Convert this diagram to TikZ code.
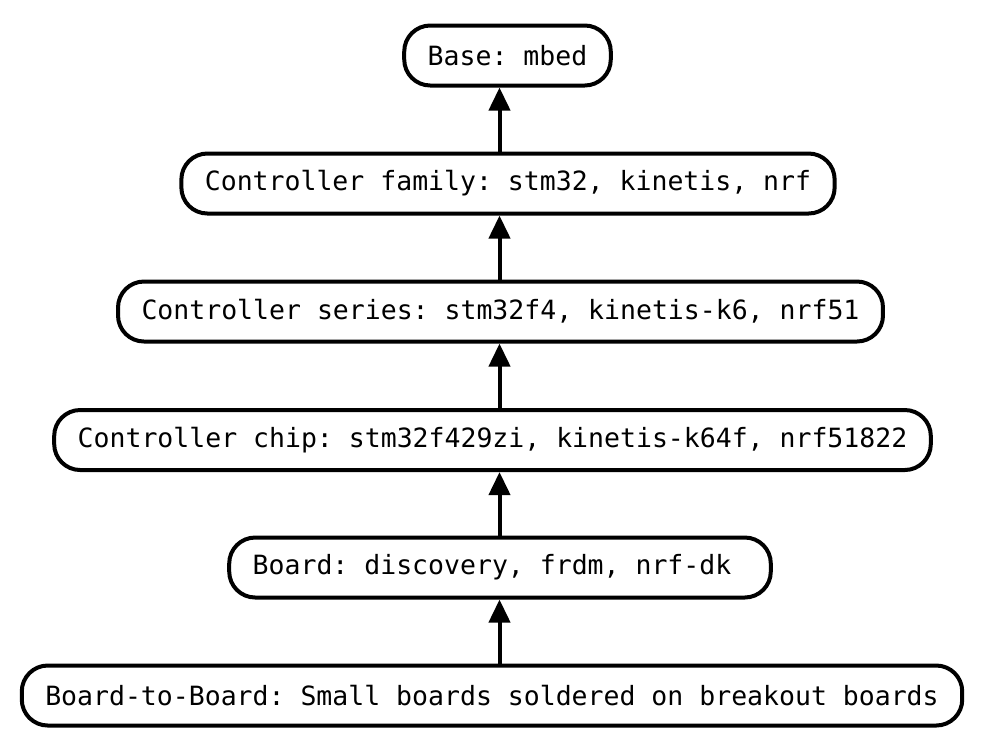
\documentclass[tikz,border=0pt]{standalone}
\usepackage{fontspec}
\setmonofont{DejaVu Sans Mono}
\usetikzlibrary{arrows.meta}

\begin{document}
\begin{tikzpicture}[x=0.5pt,y=-0.5pt,
    level/.style={draw,line width=2pt,rounded corners=13pt,minimum height=30pt,
      inner xsep=11.75pt,inner ysep=0pt,font=\ttfamily\fontsize{13.25pt}{16pt}\selectfont},
    up/.style={-{Triangle[width=10.5pt,length=11.5pt]},line width=2pt}]

  \useasboundingbox (0,0) rectangle (988,746);
  \coordinate (spine) at (499.5,0);

  % Levels, from most generic to most specific
  \node[level] (base)   at (507.5,55.5) {Base: mbed};
  \node[level] (family) at (508,183.5)  {Controller family: stm32, kinetis, nrf};
  \node[level] (series) at (500.5,311.5){Controller series: stm32f4, kinetis-k6, nrf51};
  \node[level] (chip)   at (492.5,440)  {Controller chip: stm32f429zi, kinetis-k64f, nrf51822};
  \node[level] (board)  at (500,567.5)  {Board: discovery, frdm, nrf-dk\phantom{k}};
  \node[level] (b2b)    at (492,695.5)  {Board-to-Board: Small boards soldered on breakout boards};

  % Each level inherits from the one above
  \path (b2b.north -| spine)    edge [up] (board.south -| spine);
  \path (board.north -| spine)  edge [up] (chip.south -| spine);
  \path (chip.north -| spine)   edge [up] (series.south -| spine);
  \path (series.north -| spine) edge [up] (family.south -| spine);
  \path (family.north -| spine) edge [up] (base.south -| spine);

\end{tikzpicture}
\end{document}
